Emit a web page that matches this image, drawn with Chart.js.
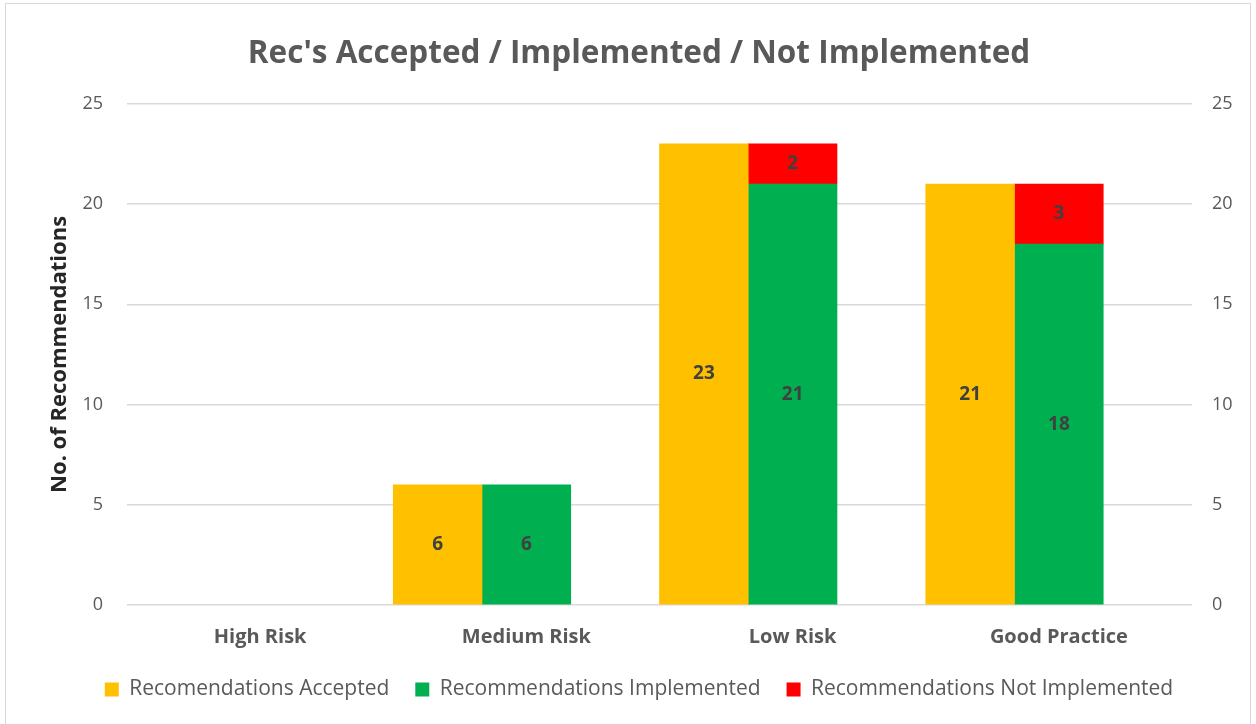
<!DOCTYPE html>
<html>
<head>
<meta charset="utf-8">
<script src="https://cdn.jsdelivr.net/npm/chart.js@4.4.1/dist/chart.umd.min.js"></script>
<style>
	html, body { margin: 0; padding: 0; background: #fff; }
	#frame {
		position: absolute; left: 5px; top: 3px;
		width: 1246px; height: 730px;
		border: 1px solid #d9d9d9; box-sizing: border-box;
	}
	#hook { position: absolute; left: 0; top: 0; width: 1256px; height: 724px; }
</style>
</head>
<body>
<div id="frame"></div>
<div id="hook"><canvas id="bars"></canvas></div>
<script>
const categories = ['High Risk', 'Medium Risk', 'Low Risk', 'Good Practice'];
const accepted = [0, 6, 23, 21];
const implemented = [0, 6, 21, 18];
const notImplemented = [0, 0, 2, 3];
const yTicks = [0, 5, 10, 15, 20, 25];

const FONT = '"Open Sans", Lato, sans-serif';
const GREY = '#595959';

//zero-height bars otherwise leave a hairline on the axis
const fill = (color) => (c) => c.raw ? color : 'rgba(0,0,0,0)';

//draw the value in the middle of each bar, skip the empty ones
const barLabels = {
	id: 'barLabels',
	afterDatasetsDraw(chart) {
		let ctx = chart.ctx;
		ctx.save();
		ctx.font = `bold 19px ${FONT}`;
		ctx.fillStyle = '#404040';
		ctx.textAlign = 'center';
		ctx.textBaseline = 'middle';
		chart.data.datasets.forEach((ds, i) => {
			chart.getDatasetMeta(i).data.forEach((bar, j) => {
				if(!ds.data[j]) return;
				ctx.fillText(ds.data[j], bar.x, (bar.y + bar.base) / 2);
			});
		});
		ctx.restore();
	}
};

const tickOpts = (pad) => ({
	stepSize: 5,
	color: GREY,
	font: {family: FONT, size: 18},
	padding: pad,
	callback: v => yTicks.includes(v) ? v : ''
});

new Chart(document.querySelector('#bars').getContext('2d'), {
	type: 'bar',
	plugins: [barLabels],
	data: {
		labels: categories,
		datasets: [
			{label: 'Recomendations Accepted', data: accepted, backgroundColor: fill('#FFC000'), stack: 'a'},
			{label: 'Recommendations Implemented', data: implemented, backgroundColor: fill('#00B050'), stack: 'b'},
			{label: 'Recommendations Not Implemented', data: notImplemented, backgroundColor: fill('#FF0000'), stack: 'b'},
			//empty third slot per category, like the original's layout
			{label: '', data: [], stack: 'c'}
		]
	},
	options: {
		responsive: true,
		maintainAspectRatio: false,
		animation: false,
		categoryPercentage: 1,
		barPercentage: 1,
		layout: {padding: {left: 26, right: 4, top: 22, bottom: 14}},
		plugins: {
			tooltip: {enabled: false},
			title: {
				display: true,
				text: "Rec's Accepted / Implemented / Not Implemented",
				color: GREY,
				font: {family: FONT, size: 31.5, weight: 'bold'},
				padding: {top: 13, bottom: 31}
			},
			legend: {
				position: 'bottom',
				labels: {
					boxWidth: 14,
					boxHeight: 14,
					padding: 26,
					color: GREY,
					font: {family: FONT, size: 21},
					//legend swatches are plain squares
					generateLabels: chart => Chart.defaults.plugins.legend.labels.generateLabels(chart)
						.filter(item => item.text !== '')
						.map(item => Object.assign(item, {fillStyle: ['#FFC000', '#00B050', '#FF0000'][item.datasetIndex]}))
				}
			}
		},
		scales: {
			x: {
				stacked: true,
				grid: {display: false, drawTicks: false},
				border: {display: false},
				ticks: {color: GREY, font: {family: FONT, size: 20, weight: 'bold'}, padding: 20},
				afterFit: scale => { scale.height -= 16; }
			},
			y: {
				stacked: true,
				min: 0, max: 25,
				position: 'left',
				grid: {color: '#d9d9d9', lineWidth: 1.5, drawTicks: false},
				border: {display: false},
				ticks: tickOpts(24),
				afterFit: scale => { scale.width = 101; },
				title: {
					display: true,
					text: 'No. of Recommendations',
					color: '#262626',
					font: {family: FONT, size: 22, weight: 'bold'},
					padding: {top: 21, bottom: 0}
				}
			},
			y1: {
				min: 0, max: 25,
				position: 'right',
				grid: {drawOnChartArea: false, drawTicks: false},
				border: {display: false},
				ticks: tickOpts(20),
				afterFit: scale => { scale.width = 60; }
			}
		}
	}
});
</script>
</body>
</html>
